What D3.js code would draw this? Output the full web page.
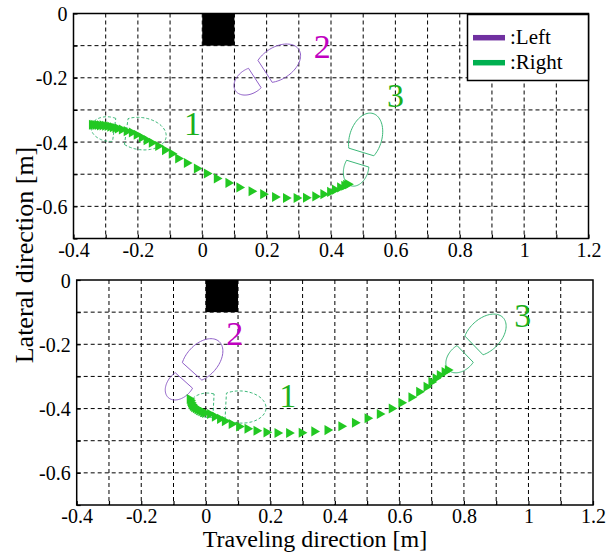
<!DOCTYPE html>
<html><head><meta charset="utf-8">
<script src="https://cdn.jsdelivr.net/npm/d3@7"></script>
<style>body{margin:0;background:#fff}svg{display:block}
svg text{font-family:"Liberation Serif","Times New Roman",Times,serif;}</style>
</head><body>
<svg id="c" width="614" height="553"></svg>
<script>
// ---------- data ----------
const xTickLabels = [-0.4, -0.2, 0, 0.2, 0.4, 0.6, 0.8, 1, 1.2];
const yTickLabels = [0, -0.2, -0.4, -0.6];
const gridX = d3.range(-4, 13).map(d => d / 10);
const gridY = d3.range(0, 8).map(d => -d / 10);

// Trajectory (top panel)
const topTrajX = [-0.343,-0.338,-0.332,-0.325,-0.318,-0.310,-0.302,-0.294,-0.286,-0.278,-0.270,-0.262,
  -0.250,-0.235,-0.219,-0.204,-0.188,-0.173,-0.157,-0.137,-0.116,-0.095,-0.075,-0.048,-0.017,0.014,0.045,
  0.081,0.115,0.153,0.189,0.226,0.260,0.293,0.322,0.351,0.376,0.397,0.412,0.428,0.441,0.447,0.453];
const topTrajY = [-0.346,-0.346,-0.347,-0.347,-0.348,-0.348,-0.349,-0.350,-0.352,-0.354,-0.356,-0.358,
  -0.361,-0.366,-0.370,-0.377,-0.386,-0.394,-0.402,-0.412,-0.425,-0.436,-0.451,-0.465,-0.482,-0.498,-0.513,
  -0.527,-0.541,-0.553,-0.562,-0.571,-0.574,-0.574,-0.573,-0.569,-0.562,-0.555,-0.548,-0.541,-0.536,-0.533,-0.531];

// Trajectory (bottom panel)
const botTrajX = [-0.050,-0.048,-0.046,-0.043,-0.040,-0.036,-0.031,-0.026,-0.020,-0.014,-0.008,-0.002,
  0.013,0.028,0.044,0.059,0.080,0.103,0.129,0.157,0.188,0.222,0.258,0.297,0.336,0.377,0.420,0.462,0.501,
  0.539,0.576,0.606,0.637,0.661,0.684,0.699,0.712,0.725,0.740,0.750];
const botTrajY = [-0.370,-0.376,-0.382,-0.387,-0.392,-0.396,-0.399,-0.402,-0.405,-0.408,-0.411,-0.414,
  -0.417,-0.425,-0.432,-0.439,-0.448,-0.456,-0.463,-0.469,-0.474,-0.476,-0.476,-0.475,-0.471,-0.467,-0.455,
  -0.444,-0.430,-0.417,-0.400,-0.382,-0.365,-0.348,-0.332,-0.317,-0.306,-0.296,-0.286,-0.280];

// Footprints: panel, foot, heel-back x/y [m], heading [deg], step index
const fpPanel = [0, 0, 0, 1, 1, 1];
const fpFoot  = ["Right", "Left", "Right", "Right", "Left", "Right"];
const fpX     = [-0.345, 0.103, 0.462, -0.048, -0.116, 0.752];
const fpY     = [-0.352, -0.240, -0.536, -0.387, -0.366, -0.280];
const fpAng   = [-8, 33, 73, -3, 48, 44];
const fpStep  = [1, 2, 3, 1, 2, 3];

// Step number labels (data coords)
const stepPanel = [0, 0, 0, 1, 1, 1];
const stepText  = ["1", "2", "3", "1", "2", "3"];
const stepX     = [-0.030, 0.373, 0.600, 0.254, 0.090, 0.982];
const stepY     = [-0.341, -0.103, -0.255, -0.358, -0.165, -0.109];

// Shoe model (local: u forward from heel back, v lateral) [m]
const heelC = 0.055, heelA = 0.055, heelB = 0.038, heelCut = 0.072;
const toeC = 0.156, toeA = 0.079, toeB = 0.05, toeCut = 0.110;

const legendNames = ["Left", "Right"];

// ---------- styles ----------
const col = { Left: "#7030a0", Right: "#00b050" };
const fpCol = { Left: "#9060c8", Right: "#3cb878" };
const stepCol = { "1": "#1cb01c", "2": "#c000c0", "3": "#1cb01c" };
const trajCol = "#22c822";
const FONT = "Liberation Serif";

const svg = d3.select("#c");
const panels = [
  { x: d3.scaleLinear([-0.4, 1.2], [73.5, 588.5]), y: d3.scaleLinear([0, -0.7], [13.5, 238.5]),
    trajX: topTrajX, trajY: topTrajY },
  { x: d3.scaleLinear([-0.4, 1.2], [76.7, 593]), y: d3.scaleLinear([0, -0.7], [280, 505]),
    trajX: botTrajX, trajY: botTrajY }
];

const fmt = d => String(Math.round(d * 10) / 10);

function shoePaths(x0, y0, angDeg) {
  const th = angDeg * Math.PI / 180, c = Math.cos(th), s = Math.sin(th);
  const tr = (u, v) => [x0 + u * c - v * s, y0 + u * s + v * c];
  const heel = [], toe = [];
  const t0 = Math.acos((heelCut - heelC) / heelA);
  for (let i = 0; i <= 60; i++) {
    const t = t0 + (2 * Math.PI - 2 * t0) * i / 60;
    heel.push(tr(heelC + heelA * Math.cos(t), heelB * Math.sin(t)));
  }
  const t1 = Math.acos((toeCut - toeC) / toeA);
  for (let i = 0; i <= 60; i++) {
    const t = -t1 + 2 * t1 * i / 60;
    toe.push(tr(toeC + toeA * Math.cos(t), toeB * Math.sin(t)));
  }
  return [heel, toe];
}

panels.forEach((p, pi) => {
  const g = svg.append("g");
  const [x0, x1] = p.x.range(), [y0, y1] = p.y.range();
  // grid
  g.selectAll(".gx").data(gridX.slice(1, -1)).join("line")
    .attr("x1", d => p.x(d)).attr("x2", d => p.x(d)).attr("y1", y0).attr("y2", y1)
    .attr("stroke", "#000").attr("stroke-width", 1).attr("stroke-dasharray", "4,3");
  g.selectAll(".gy").data(gridY.slice(1, -1)).join("line")
    .attr("y1", d => p.y(d)).attr("y2", d => p.y(d)).attr("x1", x0).attr("x2", x1)
    .attr("stroke", "#000").attr("stroke-width", 1).attr("stroke-dasharray", "4,3");
  // black block
  g.append("rect").attr("x", p.x(0)).attr("y", p.y(0))
    .attr("width", p.x(0.1) - p.x(0)).attr("height", p.y(-0.1) - p.y(0)).attr("fill", "#000");
  // footprints
  fpPanel.forEach((pp, i) => {
    if (pp !== pi) return;
    const line = d3.line().x(d => p.x(d[0])).y(d => p.y(d[1]));
    shoePaths(fpX[i], fpY[i], fpAng[i]).forEach(pts => {
      g.append("path").attr("d", line(pts) + "Z").attr("fill", "none")
        .attr("stroke", fpCol[fpFoot[i]]).attr("stroke-width", 1)
        .attr("stroke-dasharray", fpStep[i] === 1 ? "3,2" : null);
    });
  });
  // trajectory markers
  const sym = d3.symbol().type(d3.symbolTriangle).size(44);
  g.selectAll(".tri").data(d3.range(p.trajX.length)).join("path")
    .attr("d", sym)
    .attr("transform", i => `translate(${p.x(p.trajX[i])},${p.y(p.trajY[i])}) rotate(90)`)
    .attr("fill", trajCol);
  // step labels
  stepPanel.forEach((sp, i) => {
    if (sp !== pi) return;
    g.append("text").attr("x", p.x(stepX[i])).attr("y", p.y(stepY[i]))
      .attr("text-anchor", "middle").attr("dominant-baseline", "central")
      .attr("font-family", FONT).attr("font-size", 34).attr("fill", stepCol[stepText[i]])
      .text(stepText[i]);
  });
  // frame
  g.append("rect").attr("x", x0).attr("y", y0).attr("width", x1 - x0).attr("height", y1 - y0)
    .attr("fill", "none").attr("stroke", "#000").attr("stroke-width", 1.5);
  // axes (inner ticks + labels)
  const lab = d => xTickLabels.some(t => Math.abs(t - d) < 1e-9) ? fmt(d) : "";
  const laby = d => yTickLabels.some(t => Math.abs(t - d) < 1e-9) ? fmt(d) : "";
  const ax = g.append("g").attr("transform", `translate(0,${y1})`)
    .call(d3.axisBottom(p.x).tickValues(gridX).tickSizeInner(-4).tickSizeOuter(0).tickPadding(6).tickFormat(lab));
  const ay = g.append("g").attr("transform", `translate(${x0},0)`)
    .call(d3.axisLeft(p.y).tickValues(gridY).tickSizeInner(-4).tickSizeOuter(0).tickPadding(6).tickFormat(laby));
  [ax, ay].forEach(a => {
    a.attr("font-family", FONT).attr("font-size", 20);
    a.select(".domain").remove();
    a.selectAll("line").attr("stroke", "#000").attr("stroke-width", 1.2);
    a.selectAll("text").attr("font-family", FONT).attr("font-size", 20).attr("fill", "#000");
  });
  ax.selectAll("text").attr("dy", "0.6em");
  ay.selectAll("text").attr("dy", "0.35em");
});

// legend (top panel)
const lg = svg.append("g");
lg.append("rect").attr("x", 467.5).attr("y", 14.5).attr("width", 121).attr("height", 66)
  .attr("fill", "#fff").attr("stroke", "#000").attr("stroke-width", 1.5);
legendNames.forEach((n, i) => {
  const yy = 37.7 + i * 25;
  lg.append("line").attr("x1", 473).attr("x2", 505).attr("y1", yy).attr("y2", yy)
    .attr("stroke", col[n]).attr("stroke-width", 5.5);
  lg.append("text").attr("x", 510).attr("y", yy + 6.5).attr("font-family", FONT)
    .attr("font-size", 21).attr("fill", "#000").text(":" + n);
});

// axis titles
svg.append("text").attr("transform", "translate(33,255) rotate(-90)")
  .attr("text-anchor", "middle").attr("font-family", FONT).attr("font-size", 26).text("Lateral direction [m]");
svg.append("text").attr("x", 315).attr("y", 547)
  .attr("text-anchor", "middle").attr("font-family", FONT).attr("font-size", 24).text("Traveling direction [m]");
</script>
</body></html>
